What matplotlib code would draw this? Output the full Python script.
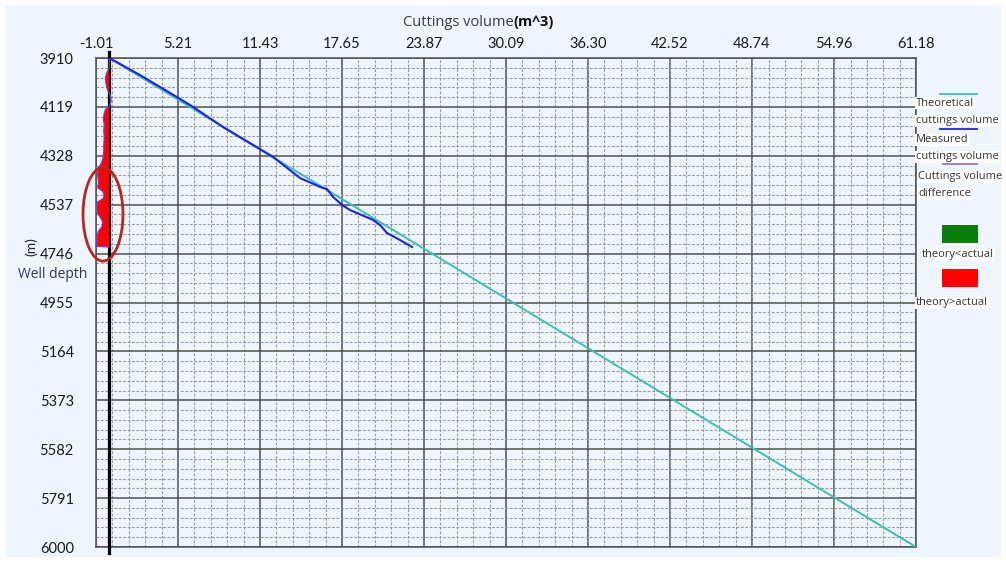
import numpy as np
import matplotlib
matplotlib.use("Agg")
import matplotlib.pyplot as plt
from matplotlib.patches import Ellipse, Rectangle
from matplotlib.lines import Line2D
from matplotlib.ticker import AutoMinorLocator

plt.rcParams['font.family'] = ['Lato', 'DejaVu Sans']

# axis ticks as printed on the chart
x_ticks = [-1.01, 5.21, 11.43, 17.65, 23.87, 30.09, 36.30, 42.52, 48.74, 54.96, 61.18]
y_ticks = [3910, 4119, 4328, 4537, 4746, 4955, 5164, 5373, 5582, 5791, 6000]

# theoretical cuttings volume (straight line)
theory_vol = [0.0, 61.18]
theory_depth = [3910, 6000]

# measured cuttings volume
meas_vol = [0.0, 2.33, 5.13, 6.35, 8.62, 12.42, 14.46, 15.98, 16.51, 16.97, 17.65,
            18.26, 20.00, 20.53, 21.06, 22.05, 22.96]
meas_depth = [3910, 3983, 4077, 4119, 4205, 4333, 4423, 4461, 4470, 4504, 4538,
              4560, 4602, 4624, 4658, 4688, 4718]

# cuttings volume difference
diff_depth = [3910, 3950, 3975, 3995, 4020, 4045, 4060, 4075, 4095, 4108, 4118, 4130,
              4150, 4170, 4195, 4220, 4250, 4280, 4310, 4340, 4365, 4380, 4410, 4440,
              4465, 4480, 4495, 4510, 4525, 4550, 4575, 4595, 4610, 4630, 4650, 4675,
              4700, 4715, 4718]
diff_vals = [0.0, 0.0, -0.2, -0.3, -0.25, -0.15, 0.0, 0.1, 0.12, 0.05, 0.0, -0.3,
             -0.4, -0.45, -0.38, -0.42, -0.38, -0.42, -0.42, -0.48, -0.65, -0.85, -0.88, -0.82,
             -0.88, -0.5, -0.4, -0.45, -0.88, -0.95, -0.88, -0.65, -0.5, -0.55, -0.82, -0.95,
             -0.93, -0.9, 0.0]

W, H = 1006, 562
bg = '#eef5fc'

fig = plt.figure(figsize=(W / 100, H / 100), dpi=100, facecolor='white')
fig.add_artist(Rectangle((5 / W, 5 / H), 1 - 10 / W, 1 - 10 / H, transform=fig.transFigure,
                         facecolor=bg, edgecolor='none', zorder=-10))
ax = fig.add_axes([96 / W, 1 - 547 / H, 820 / W, 489 / H])
ax.set_facecolor(bg)

ax.set_xlim(-1.01, 61.18)
ax.set_ylim(6000, 3910)
ax.set_xticks(x_ticks)
ax.set_xticklabels(["%.2f" % v for v in x_ticks])
ax.set_yticks(y_ticks)
ax.set_yticklabels([str(v) for v in y_ticks])
ax.xaxis.tick_top()
ax.xaxis.set_minor_locator(AutoMinorLocator(5))
ax.yaxis.set_minor_locator(AutoMinorLocator(5))
ax.tick_params(which='both', length=0)
ax.tick_params(axis='x', pad=5, labelsize=10.5, colors='#1a1a1a')
ax.tick_params(axis='y', pad=16, labelsize=10.5, colors='#1a1a1a')
ax.grid(which='major', color='#505050', lw=1.1, ls='-')
ax.grid(which='minor', color='#9a9a9a', lw=0.8, ls=(0, (2.5, 1.5)))
ax.set_axisbelow(True)
for s in ax.spines.values():
    s.set_color('#505050')
    s.set_linewidth(1.1)

# zero line
ax.axvline(0, ymin=-0.012, ymax=1.012, color='black', lw=2.3, clip_on=False, zorder=3)

# difference fill
dd = np.array(diff_depth)
dv = np.array(diff_vals)
ax.fill_betweenx(dd, dv, 0, where=dv < 0, color='#ff0000', interpolate=True, lw=0, zorder=4)
ax.fill_betweenx(dd, dv, 0, where=dv > 0, color='#0a7d0a', interpolate=True, lw=0, zorder=4)
ax.plot(dv, dd, color='#7a3cc8', lw=0.9, zorder=5)

ax.plot(theory_vol, theory_depth, color='#3cbfb4', lw=1.4, zorder=5)
ax.plot(meas_vol, meas_depth, color='#1f22e6', lw=1.5, zorder=6)

ax.add_patch(Ellipse((-0.48, 4578), width=3.03, height=400, fill=False,
                     edgecolor='#b5281c', lw=2, clip_on=False, zorder=7))

# axis titles
fig.text(514 / W, 1 - 22 / H, "Cuttings volume", ha='right', va='center',
         fontsize=10.5, color='#3a3a3a', family='Open Sans')
fig.text(513 / W, 1 - 22 / H, "(m^3)", ha='left', va='center',
         fontsize=10.5, color='#111111', fontweight='bold', family='Open Sans')
fig.text(53 / W, 1 - 274 / H, "Well depth", ha='center', va='center',
         fontsize=10, color='#2f3a55', family='Open Sans')
fig.text(31 / W, 1 - 247 / H, "(m)", ha='center', va='center', rotation=90,
         fontsize=10, color='#222222')

# hand-made legend on the right
def leg_line(x0, x1, y, c):
    fig.add_artist(Line2D([x0 / W, x1 / W], [1 - y / H, 1 - y / H],
                          transform=fig.transFigure, color=c, lw=1.3))

def leg_text(x, y, s):
    fig.text(x / W, 1 - y / H, s, ha='left', va='center', fontsize=8,
             color='#333333', family='Open Sans',
             bbox=dict(facecolor='white', edgecolor='none', pad=0.6))

def leg_box(x, y, w, h, c):
    fig.add_artist(Rectangle((x / W, 1 - (y + h) / H), w / W, h / H,
                             transform=fig.transFigure, facecolor=c, edgecolor='none'))

leg_line(940, 977, 94, '#3cbfb4')
leg_text(916, 103, "Theoretical")
leg_text(916, 121, "cuttings volume")
leg_line(940, 977, 129, '#1f22e6')
leg_text(916, 140, "Measured")
leg_text(916, 157, "cuttings volume")
leg_line(943, 977, 164, '#a070c8')
leg_text(918, 177, "Cuttings volume")
leg_text(918, 194, "difference")
leg_box(942, 225, 36, 18, '#0a7d0a')
leg_text(922, 255, "theory<actual")
leg_box(942, 269, 36, 18, '#ff0000')
leg_text(916, 303, "theory>actual")

plt.savefig("out.png", dpi=100, facecolor=fig.get_facecolor())
